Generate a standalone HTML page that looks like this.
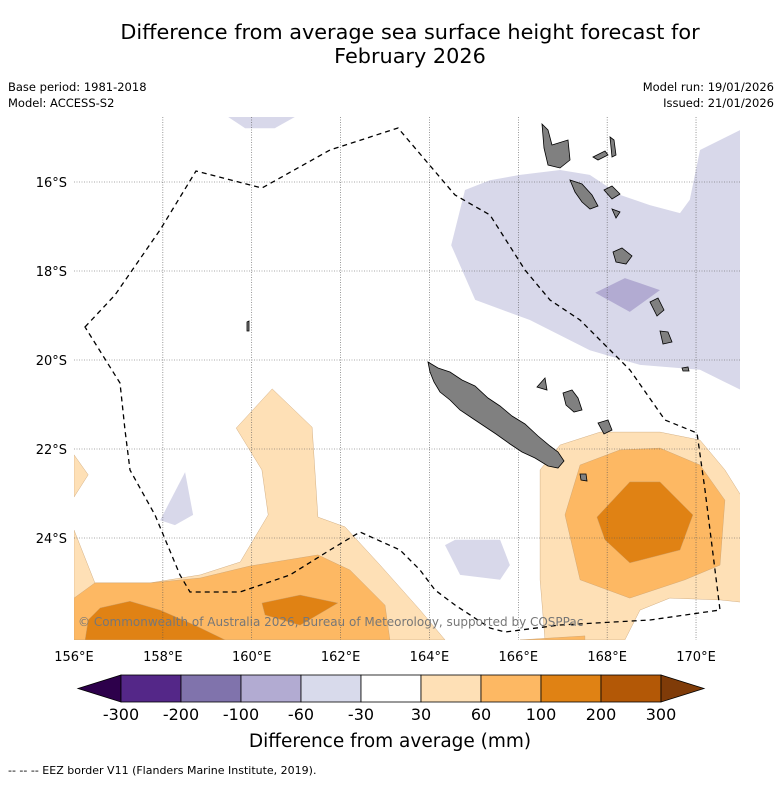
<!DOCTYPE html>
<html><head><meta charset="utf-8">
<style>
body{margin:0;background:#fff;font-family:"DejaVu Sans",sans-serif;}
svg text{font-family:"DejaVu Sans","Liberation Sans",sans-serif;}
</style></head>
<body>
<svg width="781" height="781" viewBox="0 0 781 781" xmlns="http://www.w3.org/2000/svg">
<text x="410" y="39" font-size="20.8" text-anchor="middle">Difference from average sea surface height forecast for</text>
<text x="410" y="63" font-size="20.8" text-anchor="middle">February 2026</text>
<text x="8" y="91" font-size="11.5">Base period: 1981-2018</text>
<text x="8" y="107" font-size="11.5">Model: ACCESS-S2</text>
<text x="774" y="91" font-size="11.5" text-anchor="end">Model run: 19/01/2026</text>
<text x="774" y="107" font-size="11.5" text-anchor="end">Issued: 21/01/2026</text>
<defs><clipPath id="mapclip"><rect x="74" y="117" width="666" height="523"/></clipPath></defs>
<g id="map" clip-path="url(#mapclip)">
<g id="contours"></g>
<g id="grid"></g>
<g fill="#808080" stroke="#000" stroke-width="0.8">
<path d="M428,362 L438,368 L450,372 L462,380 L475,386 L488,398 L500,406 L512,416 L525,424 L538,436 L550,446 L558,452 L564,461 L558,468 L548,466 L535,458 L522,452 L510,444 L496,434 L484,426 L472,418 L460,410 L450,400 L440,392 L434,382 L430,372 Z"/>
<path d="M542,124 L548,130 L552,145 L568,140 L570,160 L560,168 L548,165 L544,148 Z"/>
<path d="M570,180 L582,184 L592,195 L598,206 L590,209 L582,202 L575,192 Z"/>
<path d="M604,190 L612,186 L620,194 L612,199 Z"/>
<path d="M610,137 L614,140 L616,155 L612,157 Z"/>
<path d="M593,157 L605,151 L608,155 L598,160 Z"/>
<path d="M613,252 L622,248 L632,256 L626,264 L616,262 Z"/>
<path d="M612,209 L620,212 L616,218 Z"/>
<path d="M650,302 L658,298 L664,310 L657,316 Z"/>
<path d="M660,331 L668,332 L672,342 L663,344 Z"/>
<path d="M563,393 L572,390 L578,398 L582,410 L574,412 L566,405 Z"/>
<path d="M598,423 L608,420 L612,430 L604,434 Z"/>
<path d="M537,387 L545,378 L547,390 Z"/>
<path d="M580,474 L586,474 L587,481 L581,480 Z"/>
<path d="M247,322 L249,321 L249,331 L247,331 Z"/>
<path d="M682,368 L688,367 L689,371 L683,371 Z"/>
</g>
<path fill="none" stroke="#000" stroke-width="1.3" stroke-dasharray="5,4" d="M85,327 L115,295 L160,230 L196,171 L262,188 L330,150 L398,128 L455,195 L490,215 L525,270 L550,300 L580,320 L610,350 L630,370 L665,420 L697,433 L705,490 L720,610 L650,620 L560,625 L505,632 L490,628 L455,605 L435,590 L420,570 L400,550 L360,532 L330,550 L290,575 L240,592 L190,592 L180,575 L155,515 L130,470 L125,430 L120,383 Z"/>
<text x="78" y="626" font-size="12" fill="#777">© Commonwealth of Australia 2026, Bureau of Meteorology, supported by COSPPac</text>
</g>
<g id="axes"></g>
<g id="colorbar"></g>
<text x="390" y="747" font-size="18.5" text-anchor="middle">Difference from average (mm)</text>
<text x="8" y="774" font-size="11">--  --  -- EEZ border V11 (Flanders Marine Institute, 2019).</text>
</svg>
<script>
const lonTicks=[156,158,160,162,164,166,168,170];
const latTicks=[16,18,20,22,24];
const cbBounds=["-300","-200","-100","-60","-30","30","60","100","200","300"];
const cbColors=["#542788","#8073ac","#b2abd2","#d8daeb","#ffffff","#fee0b6","#fdb863","#e08214","#b35806"];
const cbLowColor="#2d004b";
const cbHighColor="#7f3b08";
// contour polygons: [lon, lat(deg S)] pairs
const lightPurple=[[164.80,16.18],[164.49,17.42],[165.03,18.65],[166.26,19.10],[167.61,19.78],[168.74,20.11],[170.09,20.22],[171,20.67],[171,14.83],[170.09,15.28],[169.86,16.40],[169.64,16.70],[168.96,16.52],[168.29,16.29],[167.61,15.84],[166.94,15.73],[166.04,15.84],[165.36,15.96]];
const lightPurpleTop=[[159.47,14.54],[159.85,14.79],[160.52,14.79],[160.97,14.54]];
const lightPurpleLeft=[[157.94,23.60],[158.50,22.52],[158.68,23.48],[158.27,23.71]];
const lightPurpleBottom=[[164.35,24.16],[164.58,24.04],[165.59,24.04],[165.81,24.61],[165.59,24.94],[164.69,24.83]];
const midPurple=[[167.73,18.49],[168.40,18.16],[169.19,18.43],[168.51,18.92]];
const lightOrangeLeft=[[156,23.82],[156.47,25.01],[157.71,25.01],[158.84,24.83],[159.74,24.54],[160.37,23.48],[160.23,22.47],[159.65,21.53],[160.46,20.65],[161.36,21.51],[161.49,23.53],[162.10,23.75],[162.89,24.61],[163.79,25.62],[164.35,26.29],[156,26.29]];
const lightOrangeEdge=[[156,22.13],[156.32,22.58],[156,23.08]];
const midOrangeLeft=[[156,25.35],[156.47,25.01],[157.71,25.01],[158.84,24.90],[159.96,24.63],[161.49,24.38],[162.21,24.72],[163.00,25.51],[163.11,26.29],[156,26.29]];
const darkOrangeLeft=[[156.32,25.84],[156.59,25.57],[157.26,25.42],[157.94,25.62],[158.72,25.96],[159.40,26.29],[156.25,26.29]];
const darkOrangePatch=[[160.23,25.46],[161.09,25.28],[161.94,25.46],[161.09,25.96],[160.30,25.73]];
const lightOrangeRight=[[166.49,22.47],[166.94,21.91],[167.84,21.62],[169.19,21.62],[170.09,21.80],[170.65,22.47],[171,23.03],[171,25.44],[170.54,25.39],[169.41,25.35],[168.74,25.62],[168.40,26.29],[166.60,26.29],[166.49,24.94]];
const midOrangeRight=[[167.05,23.48],[167.39,22.36],[168.29,22.02],[169.19,21.98],[170.09,22.36],[170.65,23.15],[170.54,24.61],[169.75,24.94],[168.51,25.35],[167.39,24.94]];
const darkOrangeRight=[[167.77,23.53],[168.51,22.74],[169.19,22.74],[169.93,23.48],[169.64,24.27],[168.51,24.56],[167.95,24.04]];
const orangeSliver=[[166.04,26.29],[167.50,26.20],[167.50,26.29]];

const NS="http://www.w3.org/2000/svg";
const X0=74,PX=44.43,Y0=182,PY=44.5;
function xs(lon){return X0+(lon-156)*PX;}
function ys(lat){return Y0+(lat-16)*PY;}
function mk(tag,attrs,parent){const e=document.createElementNS(NS,tag);for(const k in attrs)e.setAttribute(k,attrs[k]);parent.appendChild(e);return e;}
const cg=document.getElementById('contours');
const fills=[[lightPurple,"#d8d8ea","light-purple-region"],[lightPurpleTop,"#d8d8ea","light-purple-top"],[lightPurpleLeft,"#d8d8ea","light-purple-left"],[lightPurpleBottom,"#d8d8ea","light-purple-bottom"],[midPurple,"#b2abd2","mid-purple-patch"],
[lightOrangeLeft,"#fee0b6","light-orange-left"],[lightOrangeEdge,"#fee0b6","light-orange-edge"],[midOrangeLeft,"#fdb863","mid-orange-left"],[darkOrangeLeft,"#e08214","dark-orange-left"],[darkOrangePatch,"#e08214","dark-orange-patch"],
[lightOrangeRight,"#fee0b6","light-orange-right"],[midOrangeRight,"#fdb863","mid-orange-right"],[darkOrangeRight,"#e08214","dark-orange-right"],[orangeSliver,"#fdb863","orange-sliver"]];
fills.forEach(f=>{
 const p=mk('polygon',{points:f[0].map(q=>xs(q[0]).toFixed(1)+','+ys(q[1]).toFixed(1)).join(' '),fill:f[1],stroke:f[1]==="#d8d8ea"||f[1]==="#b2abd2"?"none":"#c8a070","stroke-width":0.4},cg);
 
 
});
const gg=document.getElementById('grid');
lonTicks.forEach(l=>{if(l===156)return;const e=mk('line',{x1:xs(l),x2:xs(l),y1:117,y2:640,stroke:"#555","stroke-width":0.6,"stroke-dasharray":"1,1.5"},gg);
 
 });
latTicks.forEach(l=>{const e=mk('line',{x1:74,x2:740,y1:ys(l),y2:ys(l),stroke:"#555","stroke-width":0.6,"stroke-dasharray":"1,1.5"},gg);
 
 });
const ag=document.getElementById('axes');
lonTicks.forEach(l=>{const t=mk('text',{x:xs(l),y:661,"font-size":13,"text-anchor":"middle"},ag);t.textContent=l+"°E";
 
 });
latTicks.forEach(l=>{const t=mk('text',{x:67,y:ys(l)+5,"font-size":13,"text-anchor":"end"},ag);t.textContent=l+"°S";
 
 });
const cb=document.getElementById('colorbar');
const cbx0=121,cbw=60,cby=675,cbh=27;
const lt=mk('polygon',{points:`${cbx0},${cby} ${cbx0-43},${cby+cbh/2} ${cbx0},${cby+cbh}`,fill:cbLowColor,stroke:"#000","stroke-width":0.8},cb);


cbColors.forEach((c,i)=>{const r=mk('rect',{x:cbx0+i*cbw,y:cby,width:cbw,height:cbh,fill:c,stroke:"#000","stroke-width":0.8},cb);
 
 });
const xe=cbx0+cbColors.length*cbw;
const ht=mk('polygon',{points:`${xe},${cby} ${xe+43},${cby+cbh/2} ${xe},${cby+cbh}`,fill:cbHighColor,stroke:"#000","stroke-width":0.8},cb);


cbBounds.forEach((b,i)=>{const t=mk('text',{x:cbx0+i*cbw,y:720,"font-size":16,"text-anchor":"middle"},cb);t.textContent=b;
 
 });
</script>
</body></html>
